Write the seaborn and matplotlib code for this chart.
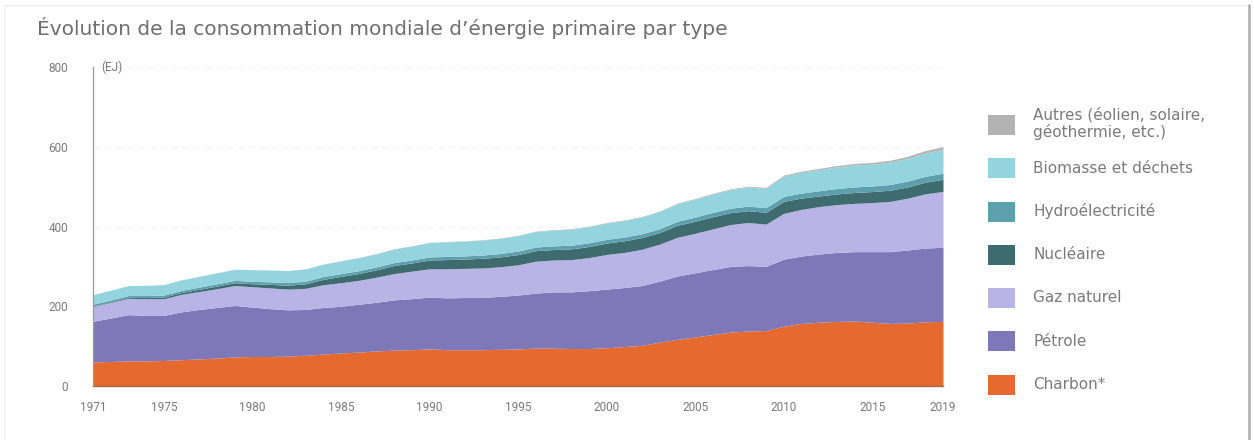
import numpy as np
import pandas as pd
import seaborn as sns
import matplotlib
matplotlib.use("Agg")
import matplotlib.pyplot as plt
from matplotlib.patches import Patch, Rectangle
from matplotlib.legend_handler import HandlerPatch
from matplotlib.lines import Line2D

# World primary energy consumption by source, EJ
years = list(range(1971, 2020))

charbon = [60.5, 61.5, 63, 63, 64, 66, 68, 70, 73, 74,
           74, 75, 77, 80, 83, 85, 88, 90, 91, 93,
           91, 91, 91, 92, 93, 95, 95, 94, 94, 96,
           99, 102, 110, 117, 123, 129, 135, 138, 139, 150,
           157, 160, 162, 163, 160, 157, 158, 161, 162]

petrole = [102, 109, 116, 114, 113, 120, 124, 127, 129, 124,
           120, 116, 115, 117, 117, 120, 122, 126, 128, 130,
           130, 131, 131, 133, 135, 138, 141, 142, 145, 147,
           148, 150, 153, 159, 161, 163, 165, 164, 161, 168,
           169, 171, 173, 174, 177, 180, 183, 185, 186]

gaz = [37, 39, 41, 42, 42, 44, 45, 47, 50, 51,
       52, 52, 53, 57, 59, 60, 63, 66, 69, 71,
       73, 73, 74, 74, 76, 80, 80, 81, 83, 87,
       88, 91, 93, 97, 99, 102, 105, 108, 106, 115,
       117, 119, 120, 121, 123, 126, 130, 136, 140]

nucleaire = [1.2, 1.6, 2.2, 2.8, 4.0, 4.6, 5.6, 6.6, 6.9, 7.5,
             8.9, 9.8, 11.3, 13.5, 15.9, 17.1, 18.5, 20.1, 20.6, 22.0,
             23.1, 23.4, 24.3, 24.8, 25.6, 26.5, 26.3, 26.9, 27.8, 28.4,
             29.1, 29.4, 28.9, 30.1, 30.2, 30.5, 29.8, 29.7, 29.5, 30.1,
             28.3, 26.5, 26.8, 27.3, 27.6, 28.0, 28.2, 29.0, 30.5]

hydro = [4.5, 4.6, 4.7, 5.1, 5.2, 5.3, 5.4, 5.8, 6.0, 6.2,
         6.3, 6.5, 6.7, 6.9, 7.0, 7.1, 7.2, 7.4, 7.4, 7.7,
         7.9, 7.9, 8.3, 8.4, 8.9, 9.0, 9.2, 9.3, 9.3, 9.4,
         9.3, 9.5, 9.5, 10.1, 10.5, 10.9, 11.0, 11.6, 11.7, 12.4,
         12.6, 13.1, 13.5, 14.0, 14.0, 14.4, 14.7, 15.1, 15.2]

biomasse = [24, 24.5, 25, 25.5, 26, 26.5, 27, 27.5, 28, 29,
            29.5, 30, 30.5, 31, 32, 32.5, 33, 34, 35, 36,
            36.5, 37, 37.5, 38, 38.5, 39, 39.5, 40, 40.5, 41,
            41.5, 42, 43, 44, 45, 46, 46.5, 48, 48.5, 51,
            52, 53, 54, 55, 55, 56, 57, 58.5, 60]

autres = [0.1, 0.1, 0.1, 0.1, 0.1, 0.1, 0.2, 0.2, 0.2, 0.2,
          0.3, 0.3, 0.4, 0.4, 0.5, 0.5, 0.6, 0.6, 0.7, 0.7,
          0.8, 0.8, 0.9, 0.9, 1.0, 1.0, 1.1, 1.1, 1.2, 1.2,
          1.3, 1.3, 1.4, 1.5, 1.6, 1.7, 1.9, 2.0, 2.2, 2.5,
          2.8, 3.1, 3.5, 3.8, 4.2, 4.7, 5.2, 5.9, 6.5]

sources = ["Autres (éolien, solaire,\ngéothermie, etc.)", "Biomasse et déchets",
           "Hydroélectricité", "Nucléaire", "Gaz naturel", "Pétrole", "Charbon*"]
series = [autres, biomasse, hydro, nucleaire, gaz, petrole, charbon]
colors = ["#b3b3b3", "#93d4df", "#5e9fae", "#3e6b6e", "#b8b4e6", "#7f78b8", "#e6692e"]

x_ticks = [1971, 1975, 1980, 1985, 1990, 1995, 2000, 2005, 2010, 2015, 2019]
y_ticks = [0, 200, 400, 600, 800]

df = pd.DataFrame({
    "annee": np.tile(years, len(sources)),
    "source": np.repeat(sources, len(years)),
    "valeur": np.concatenate([np.asarray(s, dtype=float) for s in series]),
})

sns.set_theme(style="white")
plt.rcParams["font.family"] = ["DejaVu Sans"]
text_grey = "#7a7a7a"

fig = plt.figure(figsize=(12.54, 4.40), dpi=100)
ax = fig.add_axes([0.0742, 0.1227, 0.6778, 0.7250])

palette = dict(zip(sources, colors))
sns.histplot(data=df, x="annee", weights="valeur", hue="source",
             hue_order=sources, palette=palette, multiple="stack",
             element="poly", discrete=True, fill=True, alpha=1,
             linewidth=0, legend=False, ax=ax)

ax.set_xlim(1971, 2019)
ax.set_ylim(0, 800)
ax.set_xticks(x_ticks)
ax.set_xticklabels([str(v) for v in x_ticks])
ax.set_yticks(y_ticks)
ax.set_xticks(years, minor=True)
ax.set_xlabel("")
ax.set_ylabel("")

ax.yaxis.grid(True, color="#f3f3f3", linewidth=0.8, linestyle=(0, (6, 4)))
ax.set_axisbelow(True)

for side in ["top", "right"]:
    ax.spines[side].set_visible(False)
ax.spines["left"].set_color("#9a9a9a")
ax.spines["left"].set_linewidth(0.9)
ax.spines["bottom"].set_color("#a86a4a")
ax.spines["bottom"].set_linewidth(1.0)

ax.tick_params(axis="y", length=0, pad=18, labelsize=8.5, labelcolor=text_grey)
ax.tick_params(axis="x", which="major", length=0, pad=11, labelsize=8.5, labelcolor=text_grey)
ax.tick_params(axis="x", which="minor", direction="in", length=4, width=0.6,
               color="#b06a48", bottom=True)
for lbl in ax.get_xticklabels() + ax.get_yticklabels():
    lbl.set_fontfamily(["Roboto", "DejaVu Sans"])

ax.text(0.01, 1.0, "(EJ)", transform=ax.transAxes, ha="left", va="center",
        fontsize=8.5, color=text_grey, family=["Roboto", "DejaVu Sans"])

fig.text(0.0295, 0.936, "Évolution de la consommation mondiale d’énergie primaire par type",
         ha="left", va="center", fontsize=14.5, color="#6e6e6e")


def small_square(legend, orig_handle, xdescent, ydescent, width, height, fontsize):
    h = fontsize * 1.31
    return Rectangle((-xdescent, -ydescent + (height - h) / 2), width, h)


handles = [Patch(facecolor=c, edgecolor="none") for c in colors]
leg = fig.legend(handles, sources, loc="upper left", bbox_to_anchor=(0.788, 0.757),
                 frameon=False, fontsize=11, handlelength=1.77, handleheight=3.3,
                 handletextpad=1.18, labelspacing=0.44, borderpad=0, borderaxespad=0,
                 handler_map={Patch: HandlerPatch(patch_func=small_square)})
for t in leg.get_texts():
    t.set_color(text_grey)
    t.set_linespacing(1.1)

# thin frame around the panel
fig.add_artist(Line2D([0.003, 0.996], [0.989, 0.989], transform=fig.transFigure,
                      color="#ececec", linewidth=1))
fig.add_artist(Line2D([0.003, 0.003], [0.0, 0.989], transform=fig.transFigure,
                      color="#f0f0f0", linewidth=1))
fig.add_artist(Line2D([0.9962, 0.9962], [0.0, 0.989], transform=fig.transFigure,
                      color="#b3b3b3", linewidth=2))

fig.savefig("out.png", dpi=100, facecolor="white")
